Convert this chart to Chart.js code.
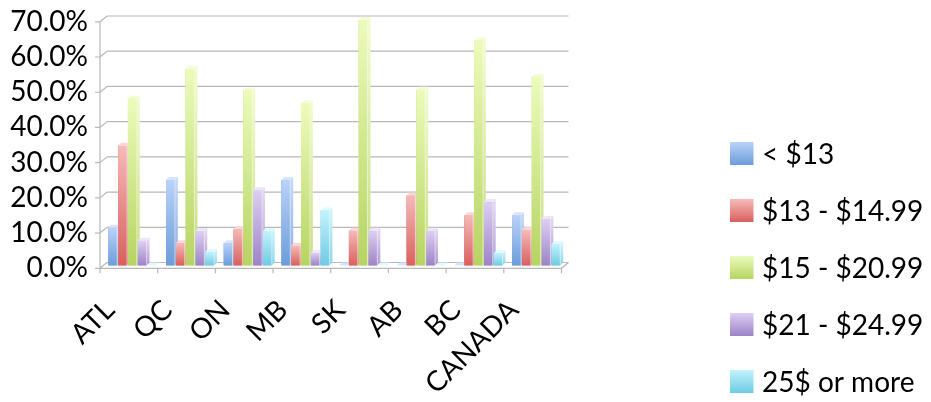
<!DOCTYPE html>
<html>
<head>
<meta charset="utf-8">
<script src="https://cdn.jsdelivr.net/npm/chart.js@4.4.1/dist/chart.umd.min.js"></script>
<style>
  html, body { margin: 0; padding: 0; background: #ffffff; }
  #wrap { position: relative; width: 931px; height: 402px; }
</style>
</head>
<body>
<div id="wrap"><canvas id="chart"></canvas></div>
<script>
// Regions and wage-band shares (percent of workers)
const categories = ['ATL', 'QC', 'ON', 'MB', 'SK', 'AB', 'BC', 'CANADA'];
const under13    = [10.7, 24.3, 6.3, 24.3, 0, 0, 0, 14.3];
const from13     = [34.0, 6.3, 10.3, 5.6, 9.9, 19.9, 14.3, 10.1];
const from15     = [47.4, 55.8, 49.7, 46.1, 69.7, 49.9, 63.9, 53.6];
const from21     = [7.0, 9.8, 21.4, 3.6, 9.9, 9.9, 18.0, 13.2];
const over25     = [0, 3.8, 9.8, 15.6, 0, 0, 3.5, 6.0];
const seriesLabels = ['< $13', '$13 - $14.99', '$15 - $20.99', '$21 - $24.99', '25$ or more'];
const yTickValues = [0, 10, 20, 30, 40, 50, 60, 70];

// colour sets: front gradient top / bottom, side gradient top / bottom, cap face
const palette = [
  { top: '#bad2f8', bottom: '#6c9cdb', sideTop: '#c6dafa', sideBottom: '#86aee3', cap: '#d6e5fc' },
  { top: '#f5bab8', bottom: '#d8605e', sideTop: '#f8cac8', sideBottom: '#e08482', cap: '#fad6d5' },
  { top: '#ecfbbb', bottom: '#b6d462', sideTop: '#f2fccd', sideBottom: '#c6dd80', cap: '#f5fdd8' },
  { top: '#ddcff3', bottom: '#9c83c7', sideTop: '#e6dbf6', sideBottom: '#b09cd3', cap: '#eee6f9' },
  { top: '#c3f2fc', bottom: '#6dcbe3', sideTop: '#d2f6fd', sideBottom: '#8ad6ea', cap: '#e0f9fe' }
];
const FONT = 'Lato, "Open Sans", sans-serif';
const FRONT = { dx: -3.5, dy: 2.8 };   // front edge of the floor / side wall
const BACK  = { dx: 3.5, dy: -3.0 };   // back wall
const BAR_DEPTH = 3;

const values = [under13, from13, from15, from21, over25];

const frame3d = {
  id: 'frame3d',
  beforeDatasetsDraw(chart) {
    const { ctx, chartArea: a, scales: { x, y } } = chart;
    ctx.save();
    ctx.strokeStyle = '#b8b8b8';
    ctx.lineWidth = 1.2;
    const y0 = y.getPixelForValue(0);
    const yTop = y.getPixelForValue(yTickValues[yTickValues.length - 1]);
    ctx.beginPath();
    yTickValues.forEach(v => {
      const py = y.getPixelForValue(v);
      // back wall gridline
      ctx.moveTo(a.left + BACK.dx, py + BACK.dy);
      ctx.lineTo(a.right + BACK.dx, py + BACK.dy);
      // side wall connector
      ctx.moveTo(a.left + FRONT.dx, py + FRONT.dy);
      ctx.lineTo(a.left + BACK.dx, py + BACK.dy);
      // tick mark
      ctx.moveTo(a.left + FRONT.dx - 5, py + FRONT.dy);
      ctx.lineTo(a.left + FRONT.dx, py + FRONT.dy);
    });
    // vertical axis
    ctx.moveTo(a.left + FRONT.dx, yTop + FRONT.dy);
    ctx.lineTo(a.left + FRONT.dx, y0 + FRONT.dy);
    // floor front edge and right edge
    ctx.moveTo(a.left + FRONT.dx, y0 + FRONT.dy);
    ctx.lineTo(a.right + FRONT.dx, y0 + FRONT.dy);
    ctx.lineTo(a.right + BACK.dx, y0 + BACK.dy);
    // category ticks
    const n = categories.length;
    const cw = (a.right - a.left) / n;
    for (let i = 0; i <= n; i++) {
      const bx = a.left + i * cw + FRONT.dx;
      ctx.moveTo(bx, y0 + FRONT.dy);
      ctx.lineTo(bx, y0 + FRONT.dy + 5);
    }
    ctx.stroke();

    // value axis labels
    ctx.fillStyle = '#000000';
    ctx.font = '28px ' + FONT;
    ctx.textAlign = 'right';
    ctx.textBaseline = 'middle';
    yTickValues.forEach(v => {
      const py = y.getPixelForValue(v);
      ctx.fillText(v.toFixed(1) + '%', a.left + FRONT.dx - 12, py + FRONT.dy);
    });

    // category labels, rotated
    categories.forEach((c, i) => {
      const px = x.getPixelForValue(i) + FRONT.dx - 19;
      const py = y0 + FRONT.dy + 37;
      ctx.save();
      ctx.translate(px, py);
      ctx.rotate(-Math.PI / 4);
      ctx.textAlign = 'right';
      ctx.textBaseline = 'middle';
      ctx.fillText(c, 0, 0);
      ctx.restore();
    });

    // legend
    const lx = 730, ly = 153.5, step = 57;
    seriesLabels.forEach((lab, s) => {
      const cy = ly + s * step;
      const g = ctx.createLinearGradient(0, cy - 11.5, 0, cy + 11.5);
      g.addColorStop(0, palette[s].top);
      g.addColorStop(1, palette[s].bottom);
      ctx.fillStyle = g;
      ctx.fillRect(lx, cy - 11.5, 23.5, 23);
      ctx.fillStyle = '#000000';
      ctx.textAlign = 'left';
      ctx.textBaseline = 'middle';
      ctx.fillText(lab, lx + 32, cy + 1);
    });
    ctx.restore();
  },
  afterDatasetsDraw(chart) {
    const { ctx } = chart;
    const d = BAR_DEPTH;
    ctx.save();
    categories.forEach((c, i) => {
      values.forEach((arr, s) => {
        const el = chart.getDatasetMeta(s).data[i];
        if (!el) return;
        const { x, y, base, width } = el.getProps(['x', 'y', 'base', 'width'], true);
        const l = x - width / 2, r = x + width / 2;
        const p = palette[s];
        if (base - y > 0.5) {
          const g = ctx.createLinearGradient(0, y, 0, base);
          g.addColorStop(0, p.top);
          g.addColorStop(1, p.bottom);
          ctx.fillStyle = g;
          ctx.fillRect(l, y, width, base - y);
          // right side face
          const gs = ctx.createLinearGradient(0, y - d, 0, base);
          gs.addColorStop(0, p.sideTop);
          gs.addColorStop(1, p.sideBottom);
          ctx.fillStyle = gs;
          ctx.beginPath();
          ctx.moveTo(r, y);
          ctx.lineTo(r + d, y - d);
          ctx.lineTo(r + d, base - d);
          ctx.lineTo(r, base);
          ctx.closePath();
          ctx.fill();
          // faint edge between front and side
          ctx.strokeStyle = 'rgba(255,255,255,0.55)';
          ctx.lineWidth = 0.8;
          ctx.beginPath();
          ctx.moveTo(r, y);
          ctx.lineTo(r, base);
          ctx.stroke();
        }
        // cap face
        ctx.fillStyle = p.cap;
        ctx.beginPath();
        ctx.moveTo(l, y);
        ctx.lineTo(l + d, y - d);
        ctx.lineTo(r + d, y - d);
        ctx.lineTo(r, y);
        ctx.closePath();
        ctx.fill();
      });
    });
    ctx.restore();
  }
};

new Chart(document.getElementById('chart'), {
  type: 'bar',
  data: {
    labels: categories,
    datasets: values.map((arr, s) => ({
      label: seriesLabels[s],
      data: arr,
      backgroundColor: palette[s].bottom,
      borderWidth: 0,
      barPercentage: 0.9,
      categoryPercentage: 0.85
    }))
  },
  options: {
    responsive: true,
    maintainAspectRatio: false,
    animation: false,
    devicePixelRatio: 1,
    layout: { padding: { left: 103.5, right: 366, top: 19, bottom: 136.5 } },
    plugins: { legend: { display: false }, tooltip: { enabled: false } },
    scales: {
      x: { display: false },
      y: { display: false, min: 0, max: 70 }
    }
  },
  plugins: [frame3d]
});
</script>
</body>
</html>
